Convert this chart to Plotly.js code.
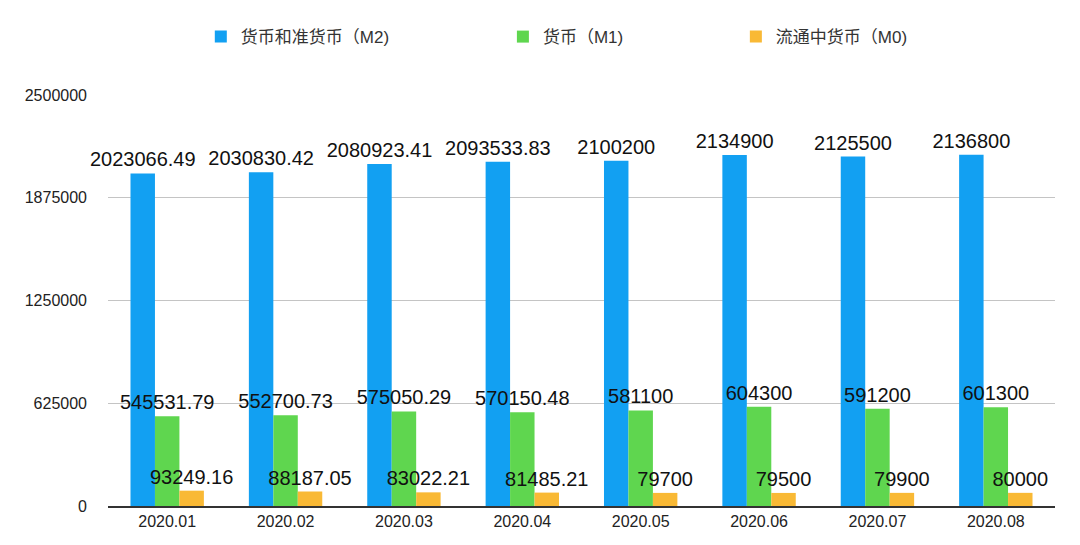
<!DOCTYPE html>
<html>
<head>
<meta charset="utf-8">
<script src="https://cdn.plot.ly/plotly-3.0.1.min.js"></script>
<style>
  html, body { margin: 0; padding: 0; background: #fff; }
  #chart { width: 1080px; height: 545px; }
</style>
</head>
<body>
<div id="chart"></div>
<script>
const months = ['2020.01', '2020.02', '2020.03', '2020.04', '2020.05', '2020.06', '2020.07', '2020.08'];
const m2 = [2023066.49, 2030830.42, 2080923.41, 2093533.83, 2100200, 2134900, 2125500, 2136800];
const m1 = [545531.79, 552700.73, 575050.29, 570150.48, 581100, 604300, 591200, 601300];
const m0 = [93249.16, 88187.05, 83022.21, 81485.21, 79700, 79500, 79900, 80000];
const yTicks = [0, 625000, 1250000, 1875000, 2500000];

const fontFam = '"Liberation Sans", Arial, "Noto Sans CJK SC", sans-serif';

const makeBar = (name, values, color, legendId) => ({
  type: 'bar',
  name: name,
  x: months,
  y: values,
  text: values.map(v => String(v)),
  textposition: 'outside',
  constraintext: 'none',
  cliponaxis: false,
  textfont: { size: 20, color: '#111', family: fontFam },
  marker: { color: color },
  legend: legendId,
  hoverinfo: 'x+y',
});

const data = [
  makeBar('货币和准货币（M2)', m2, '#12a0f2', 'legend'),
  makeBar('货币（M1)', m1, '#5fd64f', 'legend2'),
  makeBar('流通中货币（M0)', m0, '#f9b935', 'legend3'),
];

const legendBase = {
  orientation: 'h',
  yanchor: 'middle',
  y: 1.141,
  xanchor: 'left',
  font: { size: 17, color: '#333', family: fontFam },
  bgcolor: 'rgba(0,0,0,0)',
};

const layout = {
  width: 1080,
  height: 545,
  margin: { l: 108, r: 25, t: 95, b: 39 },
  paper_bgcolor: '#fff',
  plot_bgcolor: '#fff',
  font: { family: fontFam, color: '#222' },
  barmode: 'group',
  bargap: 0.38,
  bargroupgap: 0,
  showlegend: true,
  legend: Object.assign({}, legendBase, { x: 0.098 }),
  legend2: Object.assign({}, legendBase, { x: 0.417 }),
  legend3: Object.assign({}, legendBase, { x: 0.663 }),
  xaxis: {
    type: 'category',
    tickfont: { size: 16, color: '#222' },
    showgrid: false,
    showline: true,
    linecolor: '#333',
    linewidth: 2,
    ticks: '',
  },
  yaxis: {
    range: [0, 2500000],
    tickvals: yTicks,
    ticktext: yTicks.map(v => String(v)),
    tickfont: { size: 16, color: '#222' },
    gridcolor: '#c4c4c4',
    gridwidth: 1,
    zeroline: false,
    showline: false,
    ticks: '',
    ticklabelstandoff: 20,
  },
};

Plotly.newPlot('chart', data, layout, { displayModeBar: false, responsive: false });
</script>
</body>
</html>
